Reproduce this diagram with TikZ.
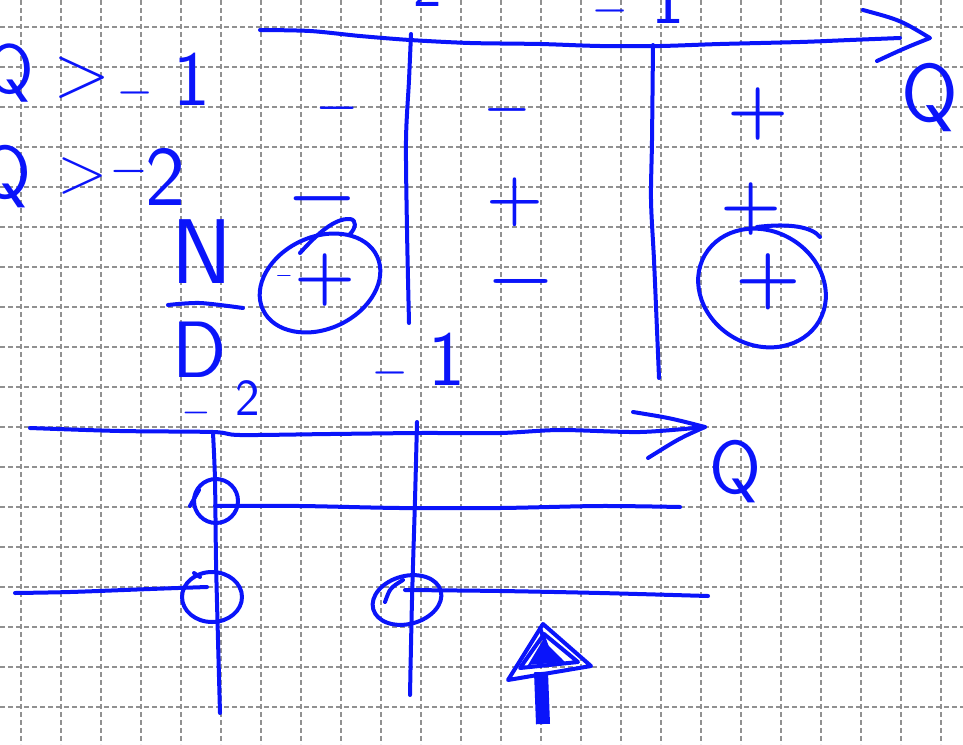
\documentclass[tikz,border=0pt]{standalone}
\usepackage{graphicx}
\definecolor{penblue}{RGB}{10,20,250}
\definecolor{gridgray}{RGB}{145,145,145}
\newcommand\fsz[1]{\fontsize{#1}{#1}\selectfont}
\tikzset{
  gridline/.style={gridgray, line width=1.3pt, dash pattern=on 5pt off 3pt},
  pen/.style={penblue, line width=4pt, line cap=round, line join=round},
  hw/.style={text=penblue, inner sep=0pt, font=\sffamily\fsz{#1}},
  sgn/.style={text=penblue, inner sep=0pt, font=\bfseries\fsz{#1}}
}
\begin{document}
\begin{tikzpicture}[x=1pt,y=-1pt]
\useasboundingbox (0,0) rectangle (963,744);
\fill[white] (0,0) rectangle (963,744);
% grid paper
\foreach \x in {21,61,...,941} \draw[gridline] (\x,0) -- (\x,744);
\foreach \y in {27,67,...,707} \draw[gridline] (0,\y) -- (963,\y);

% ---------- upper sign chart ----------
\draw[pen] plot[smooth] coordinates {(260,30) (310,31) (360,36) (410,40) (470,43) (540,44) (600,46) (660,46) (720,44) (800,42) (850,40) (900,38)};
\draw[pen] (863,10) .. controls (900,20) .. (930,38) .. controls (905,48) .. (877,61);
\node[hw=82] (qtop) at (930,98) {Q};
\node[sgn=35] (tm2) at (382,3) {−};
\node[hw=60] (t2) at (428,-14) {2};
\node[sgn=38] (tm1) at (610,15) {−};
\node[hw=70] (t1) at (668,0) {1};

\draw[pen] plot[smooth] coordinates {(411,34) (409,80) (406,140) (407,230) (409,323)};
\draw[pen] plot[smooth] coordinates {(653,45) (652,140) (651,200) (654,260) (657,330) (659,378)};

% row labels
\node[hw=70] (q1) at (10,73) {Q};
\node[hw=75] (gt1) at (82,78) {>};
\node[sgn=38] (m1) at (135,97) {−};
\node[hw=78] (one1) at (192,79) {1};
\node[hw=75] (q2) at (5,177) {Q};
\node[hw=66] (gt2) at (83,176) {>};
\node[sgn=40] (m2) at (129,176) {−};
\node[hw=85] (two2) at (165,177) {2};
\node[hw=92] (nn) at (202,252) {N};
\draw[pen] plot[smooth] coordinates {(168,305) (200,303) (243,308)};
\node[hw=80] (dd) at (200,350) {D};

% column 1
\node[sgn=45] (c1a) at (337,113) {−};
\node[sgn=75] (c1b) at (322,207) {−};
\draw[pen] (300,253) .. controls (318,233) and (335,218) .. (350,219) .. controls (357,220) and (356,228) .. (350,234);
\node[sgn=18] (c1s) at (284,278) {−};
\node[sgn=70] (c1c) at (325,280) {+};
\draw[pen, rotate around={25:(320,283)}] (320,283) ellipse [x radius=63, y radius=46];

% column 2
\node[sgn=50] (c2a) at (507,116) {−};
\node[sgn=65] (c2b) at (515,202) {+};
\node[sgn=72] (c2c) at (521,289) {−};

% column 3
\node[sgn=70] (c3a) at (758,114) {+};
\node[sgn=70] (c3b) at (751,209) {+};
\draw[pen] (757,227) .. controls (790,223) and (812,227) .. (820,237);
\node[sgn=75] (c3c) at (768,282) {+};
\draw[pen, rotate around={-30:(762,288)}] (762,288) ellipse [x radius=66, y radius=57];

% ---------- lower chart ----------
\node[sgn=30] (lm2) at (196,416) {−};
\node[hw=52] (l2) at (248,398) {2};
\node[sgn=38] (lm1) at (390,377) {−};
\node[hw=78] (l1) at (447,359) {1};

\draw[pen] plot[smooth] coordinates {(30,428) (120,431) (213,432) (240,435) (330,434) (420,433) (500,433) (560,430) (640,432) (705,427)};
\draw[pen] (633,412) .. controls (670,418) .. (705,427) .. controls (680,438) .. (648,458);
\node[hw=75] (qlow) at (735,472) {Q};

\draw[pen] plot[smooth] coordinates {(213,433) (215,480) (216,560) (218,640) (220,713)};
\draw[pen] plot[smooth] coordinates {(417,422) (415,500) (412,600) (410,695)};

\draw[pen] (216,501) circle [radius=22];
\draw[pen] (190,506) -- (199,490);
\draw[pen] plot[smooth] coordinates {(215,506) (300,506) (400,508) (500,508) (600,506) (680,507)};

\draw[pen] (212,597) ellipse [x radius=30, y radius=25];
\draw[pen] (194,573) -- (200,577);
\draw[pen] plot[smooth] coordinates {(15,593) (70,592) (150,589) (207,587)};

\draw[pen, rotate around={15:(407,600)}] (407,600) ellipse [x radius=35, y radius=24];
\draw[pen] (385,602) .. controls (390,588) .. (403,580);
\draw[pen] plot[smooth] coordinates {(405,590) (500,591) (600,593) (708,596)};

% scribbled up arrow
\draw[pen] (543,624) -- (508,680) -- (591,666) -- cycle;
\draw[pen] (544,634) -- (520,668) -- (578,662) -- cycle;
\draw[pen] (540,628) -- (548,650) -- (560,660);
\fill[penblue] (543,640) -- (528,665) -- (565,662) -- cycle;
\draw[pen, line width=14pt, line cap=butt] (541,672) -- (543,724);
\end{tikzpicture}
\end{document}
